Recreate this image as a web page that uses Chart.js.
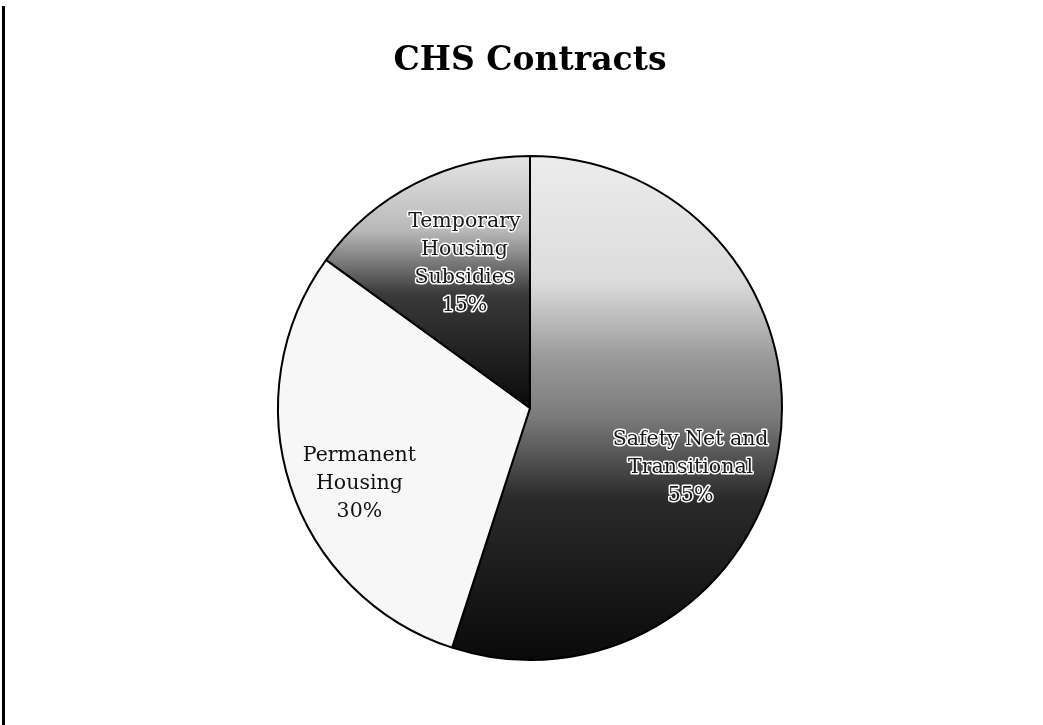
<!DOCTYPE html>
<html>
<head>
<meta charset="utf-8">
<script src="https://cdn.jsdelivr.net/npm/chart.js@4/dist/chart.umd.min.js"></script>
<style>
    html, body { margin: 0; padding: 0; background: #fff; }
    #wrap { position: relative; width: 1043px; height: 725px; }
    #edge { position: absolute; left: 2px; top: 6px; bottom: 0; border-left: 3px solid #000; }
</style>
</head>
<body>
<div id="wrap">
    <div id="edge"></div>
    <canvas id="contracts-chart" width="1043" height="725"></canvas>
</div>
<script>
const categories = ['Safety Net and Transitional', 'Permanent Housing', 'Temporary Housing Subsidies'];
const labelLines = [['Safety Net and', 'Transitional'], ['Permanent', 'Housing'], ['Temporary', 'Housing', 'Subsidies']];
const shares = [55, 30, 15];

// label placement: fraction of radius, angle nudge in degrees, outlined text or not
const labelPlace = [
    { r: 0.68, nudge: 11.4, outline: true },
    { r: 0.74, nudge: -5.8, outline: false },
    { r: 0.63, nudge: 2.6, outline: true }
];

function sliceFill(context) {
    const chart = context.chart;
    const area = chart.chartArea;
    if (!area) return '#888';
    const c = chart.ctx;
    const top = area.top, h = area.bottom - area.top;
    if (context.dataIndex === 0) {
        const g = c.createLinearGradient(0, top, 0, area.bottom);
        g.addColorStop(0, '#ececec');
        g.addColorStop(0.25, '#dcdcdc');
        g.addColorStop(0.4, '#9a9a9a');
        g.addColorStop(0.52, '#7a7a7a');
        g.addColorStop(0.68, '#2a2a2a');
        g.addColorStop(1, '#0a0a0a');
        return g;
    }
    if (context.dataIndex === 2) {
        const g = c.createLinearGradient(0, top, 0, top + h * 0.5);
        g.addColorStop(0, '#e6e6e6');
        g.addColorStop(0.3, '#b8b8b8');
        g.addColorStop(0.55, '#3a3a3a');
        g.addColorStop(1, '#0a0a0a');
        return g;
    }
    return '#f7f7f7';
}

const sliceLabels = {
    id: 'sliceLabels',
    afterDatasetsDraw(chart) {
        const c = chart.ctx;
        const meta = chart.getDatasetMeta(0);
        const total = shares.reduce((a, b) => a + b, 0);
        c.save();
        c.font = '20.5px "DejaVu Serif", serif';
        c.textAlign = 'center';
        c.textBaseline = 'middle';
        c.lineJoin = 'round';
        meta.data.forEach((arc, i) => {
            const p = labelPlace[i];
            const mid = (arc.startAngle + arc.endAngle) / 2 + p.nudge * Math.PI / 180;
            const x = arc.x + Math.cos(mid) * arc.outerRadius * p.r;
            const y = arc.y + Math.sin(mid) * arc.outerRadius * p.r;
            const lines = labelLines[i].concat([Math.round(shares[i] / total * 100) + '%']);
            const lh = 28;
            lines.forEach((t, k) => {
                const ty = y + (k - (lines.length - 1) / 2) * lh;
                if (p.outline) {
                    c.strokeStyle = '#ffffff';
                    c.lineWidth = 3;
                    c.strokeText(t, x, ty);
                    c.fillStyle = '#1a1a1a';
                } else {
                    c.fillStyle = '#111';
                }
                c.fillText(t, x, ty);
            });
        });
        c.restore();
    }
};

new Chart(document.getElementById('contracts-chart'), {
    type: 'pie',
    data: {
        labels: categories,
        datasets: [{
            data: shares,
            backgroundColor: sliceFill,
            borderColor: '#000',
            borderWidth: 2,
            hoverOffset: 0,
            offset: 0
        }]
    },
    options: {
        responsive: false,
        animation: false,
        layout: { padding: { top: 0, bottom: 64, left: 17, right: 0 } },
        plugins: {
            legend: { display: false },
            tooltip: { enabled: false },
            title: {
                display: true,
                text: 'CHS Contracts',
                color: '#000',
                font: { family: '"DejaVu Serif", serif', size: 33, weight: 'bold', lineHeight: 1.2 },
                padding: { top: 42, bottom: 73.4 }
            }
        }
    },
    plugins: [sliceLabels]
});
</script>
</body>
</html>
